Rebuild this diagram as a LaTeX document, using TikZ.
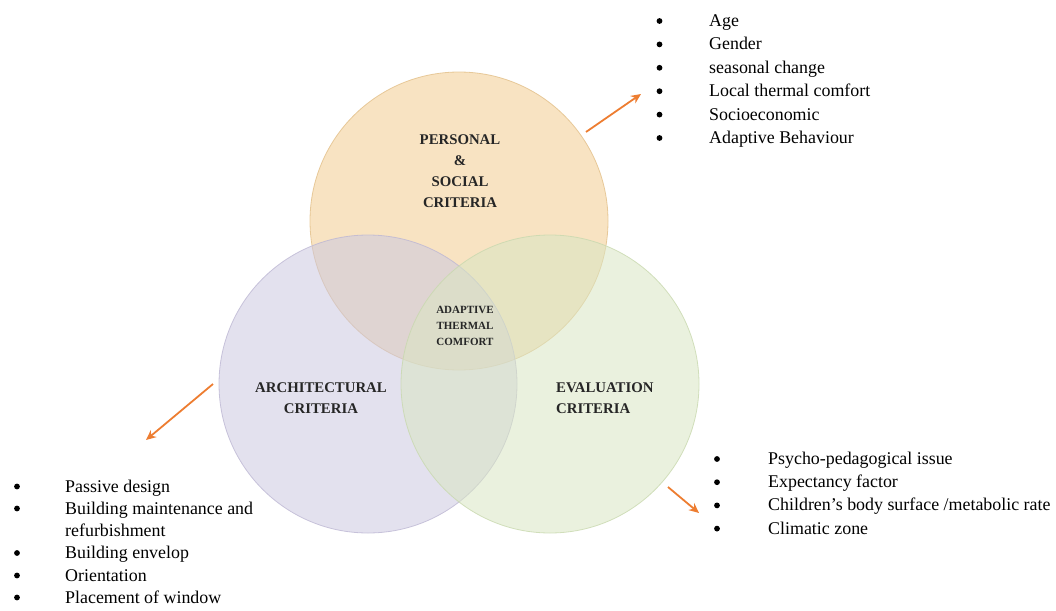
\documentclass[tikz,border=0pt]{standalone}
\usepackage{fontspec}
\setmainfont{Liberation Serif}
\usetikzlibrary{arrows.meta}

\definecolor{persfill}{HTML}{F2CC90}
\definecolor{persline}{HTML}{E2BF88}
\definecolor{archfill}{HTML}{CCC8E0}
\definecolor{archline}{HTML}{BDB7D3}
\definecolor{evalfill}{HTML}{D9E6C3}
\definecolor{evalline}{HTML}{C8D8AE}
\definecolor{arrowc}{HTML}{ED7D31}
\definecolor{labelc}{HTML}{262626}

\tikzset{
  venn/.style={circle, minimum size=298pt, inner sep=0pt, fill opacity=0.55, draw opacity=0.8, line width=0.8pt},
  title/.style={font=\fontsize{14.8}{21}\selectfont\bfseries, text=labelc, align=center, inner sep=0pt},
  core/.style={font=\fontsize{11}{16}\selectfont\bfseries, text=labelc, align=center, inner sep=0pt},
  item/.style={font=\fontsize{17.9}{22}\selectfont, anchor=base west, inner sep=0pt},
  dot/.style={circle, fill=black, minimum size=5.8pt, inner sep=0pt},
  pointer/.style={draw=arrowc, line width=1.8pt, -{Stealth[length=10pt,width=9pt]}}
}

\begin{document}
\begin{tikzpicture}[x=1pt,y=-1pt]
\useasboundingbox (0,0) rectangle (1056,610);

% the three overlapping criteria circles
\node[venn, fill=persfill, draw=persline] (pers) at (459,221) {};
\node[venn, fill=archfill, draw=archline] (arch) at (368,384) {};
\node[venn, fill=evalfill, draw=evalline] (eval) at (550,384) {};

% circle titles
\node[title] (perst) at (460,171) {PERSONAL\\\&\\SOCIAL\\CRITERIA};
\node[title] (archt) at (321,398.5) {ARCHITECTURAL\\CRITERIA};
\node[title, align=left, anchor=west] (evalt) at (556,398.5) {EVALUATION\\CRITERIA};
\node[core] (atc) at (465,326) {ADAPTIVE\\THERMAL\\COMFORT};

% personal & social factors
\foreach \t [count=\i] in {Age, Gender, seasonal change, Local thermal comfort, Socioeconomic, Adaptive Behaviour} {
  \node[dot] (pb\i) at (659.5,{21+(\i-1)*23.4}) {};
  \node[item] (pi\i) at (709,{26.5+(\i-1)*23.4}) {\t};
}

% architectural factors
\foreach \y/\n in {492/1, 514/2, 558.5/4, 581/5, 603/6} {
  \node[dot] (ab\n) at (17,\y-5.5) {};
}
\node[item] (ai1) at (65,492) {Passive design};
\node[item] (ai2) at (65,514) {Building maintenance and};
\node[item] (ai3) at (65,536.5) {refurbishment};
\node[item] (ai4) at (65,558.5) {Building envelop};
\node[item] (ai5) at (65,581) {Orientation};
\node[item] (ai6) at (65,603) {Placement of window};

% evaluation factors
\foreach \t [count=\i] in {Psycho-pedagogical issue, Expectancy factor, Children’s body surface /metabolic rate, Climatic zone} {
  \node[dot] (eb\i) at (717,{459+(\i-1)*23.2}) {};
  \node[item] (ei\i) at (768,{464.5+(\i-1)*23.2}) {\t};
}

% pointers from circles to their factor lists
\coordinate (p0) at (586,132);
\coordinate (p1) at (641,94);
\coordinate (a0) at (213,384);
\coordinate (a1) at (146,440);
\coordinate (e0) at (668,487);
\coordinate (e1) at (699,513);
\draw[pointer] (p0) -- (p1);
\draw[pointer] (a0) -- (a1);
\draw[pointer] (e0) -- (e1);
\end{tikzpicture}
\end{document}
